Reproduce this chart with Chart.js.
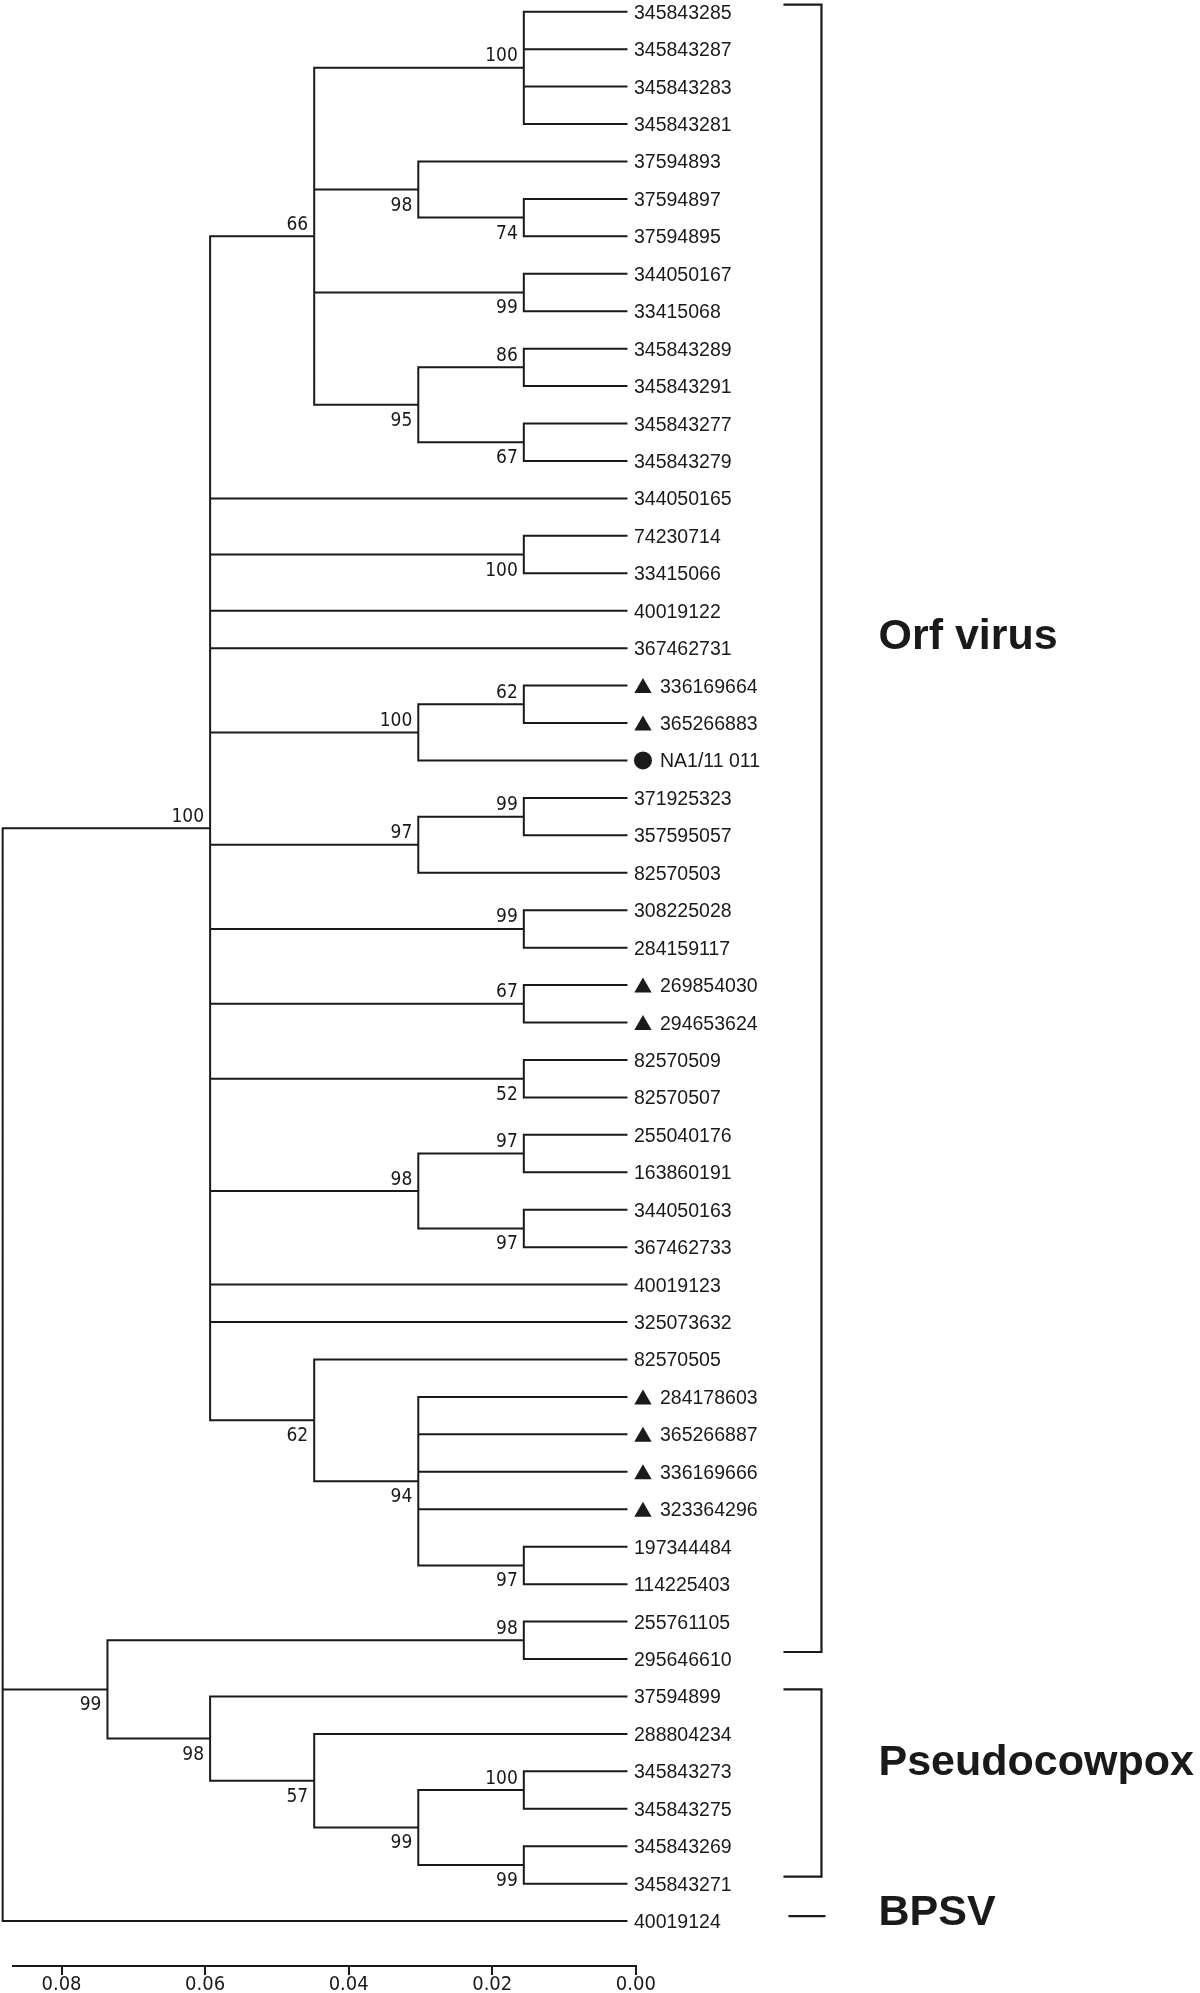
<!DOCTYPE html>
<html>
<head>
<meta charset="utf-8">
<script src="https://cdn.jsdelivr.net/npm/chart.js@4.4.1/dist/chart.umd.min.js"></script>
<style>
  html, body { margin: 0; padding: 0; background: #fff; }
  #wrap { width: 1200px; height: 1993px; }
</style>
</head>
<body>
<div id="wrap"><canvas id="tree" width="1200" height="1993"></canvas></div>
<script>
// leaves, top to bottom
const leafNames = ['345843285','345843287','345843283','345843281','37594893','37594897','37594895',
  '344050167','33415068','345843289','345843291','345843277','345843279','344050165','74230714',
  '33415066','40019122','367462731','336169664','365266883','NA1/11 011','371925323','357595057',
  '82570503','308225028','284159117','269854030','294653624','82570509','82570507','255040176',
  '163860191','344050163','367462733','40019123','325073632','82570505','284178603','365266887',
  '336169666','323364296','197344484','114225403','255761105','295646610','37594899','288804234',
  '345843273','345843275','345843269','345843271','40019124'];
const triangleLeaves = [18, 19, 26, 27, 37, 38, 39, 40];
const circleLeaves = [20];
const leafTip = 0.0013;

// internal nodes (numbers in kids = leaf index, strings = node id)
const nodeIds = ['a','b','c','d','e','f','g','h','i','j','k','l','m','n','o','p','q','r','s','t',
  'u','v','A','w','x','y','z','G','F','C','R'];
const nodeHeight = [0.0156,0.0156,0.0303,0.0156,0.0156,0.0156,0.0303,0.0448,0.0156,0.0156,
  0.0303,0.0156,0.0303,0.0156,0.0156,0.0156,0.0156,0.0156,0.0303,0.0156,
  0.0303,0.0448,0.0593,0.0156,0.0156,0.0156,0.0303,0.0448,0.0593,0.0736,0.0882];
const nodeKids = [[0,1,2,3],[5,6],[4,'b'],[7,8],[9,10],[11,12],['e','f'],['a','c','d','g'],[14,15],[18,19],
  ['j',20],[21,22],['l',23],[24,25],[26,27],[28,29],[30,31],[32,33],['q','r'],[41,42],
  [37,38,39,40,'t'],[36,'u'],['h',13,'i',16,17,'k','m','n','o','p','s',34,35,'v'],
  [43,44],[47,48],[49,50],['x','y'],[46,'z'],[45,'G'],['w','F'],['A','C',51]];
const nodeSupport = [100,74,98,99,86,67,95,66,100,62,100,99,97,99,67,52,97,97,98,97,
  94,62,100,98,100,99,99,57,98,99,null];
const supportBelow = [0,1,1,1,0,1,1,0,1,0,0,0,0,0,0,1,0,1,0,1,1,1,0,0,0,1,1,1,1,1,0];

const cladeNames = ['Orf virus', 'Pseudocowpox', 'BPSV'];
const cladeFirst = [0, 45, 51];
const cladeLast = [44, 50, 51];
const cladeLabelRow = [16.6, 46.7, 50.7];

const scaleTicks = [0, 0.02, 0.04, 0.06, 0.08];

const narrow = '"Liberation Sans Narrow", "DejaVu Sans Condensed", sans-serif';
const ink = '#1a1a1a';

function rowOf(ref) {
    if (typeof ref === 'number') return ref;
    const k = nodeKids[nodeIds.indexOf(ref)];
    return (rowOf(k[0]) + rowOf(k[k.length - 1])) / 2;
}
function heightOf(ref) {
    return typeof ref === 'number' ? leafTip : nodeHeight[nodeIds.indexOf(ref)];
}

// branches as one line with gaps
const branchPoints = [];
nodeIds.forEach((id, n) => {
    const kids = nodeKids[n], h = nodeHeight[n];
    branchPoints.push({x: h, y: rowOf(kids[0])}, {x: h, y: rowOf(kids[kids.length - 1])}, {x: null, y: null});
    kids.forEach(k => {
        branchPoints.push({x: h, y: rowOf(k)}, {x: heightOf(k), y: rowOf(k)}, {x: null, y: null});
    });
});

const treeText = {
    id: 'treeText',
    afterDatasetsDraw(chart) {
        const ctx = chart.ctx, xs = chart.scales.x, ys = chart.scales.y;
        const tipPx = xs.getPixelForValue(leafTip);
        ctx.save();
        ctx.fillStyle = ink;
        ctx.strokeStyle = ink;

        // leaf labels + markers
        ctx.font = '19.5px "Liberation Sans", Arial, sans-serif';
        ctx.textAlign = 'left';
        ctx.textBaseline = 'alphabetic';
        leafNames.forEach((name, i) => {
            const py = ys.getPixelForValue(i);
            let tx = tipPx + 7.5;
            const tri = triangleLeaves.includes(i), dot = circleLeaves.includes(i);
            if (tri || dot) {
                const cx = tipPx + 16.5;
                ctx.beginPath();
                if (tri) {
                    const cy = py + 2.5, r = 10;
                    ctx.moveTo(cx, cy - r);
                    ctx.lineTo(cx + r * 0.866, cy + r / 2);
                    ctx.lineTo(cx - r * 0.866, cy + r / 2);
                    ctx.closePath();
                } else {
                    ctx.arc(cx, py, 9, 0, Math.PI * 2);
                }
                ctx.fill();
                tx = tipPx + 33.5;
            }
            ctx.fillText(name, tx, py + 7);
        });

        // bootstrap values
        ctx.font = '19px ' + narrow;
        ctx.textAlign = 'right';
        nodeIds.forEach((id, n) => {
            if (nodeSupport[n] == null) return;
            const px = xs.getPixelForValue(nodeHeight[n]) - 6;
            const py = ys.getPixelForValue(rowOf(id));
            ctx.fillText(String(nodeSupport[n]), px, supportBelow[n] ? py + 21 : py - 6.5);
        });

        // clade brackets + names
        ctx.lineWidth = 2.2;
        ctx.textAlign = 'left';
        ctx.font = 'bold 43px "Liberation Sans", Arial, sans-serif';
        cladeNames.forEach((name, c) => {
            const top = ys.getPixelForValue(cladeFirst[c]) - 7;
            const bot = ys.getPixelForValue(cladeLast[c]) - 7;
            ctx.beginPath();
            if (cladeFirst[c] === cladeLast[c]) {
                ctx.moveTo(tipPx + 162, top + 2);
                ctx.lineTo(tipPx + 199, top + 2);
            } else {
                ctx.moveTo(tipPx + 157, top);
                ctx.lineTo(tipPx + 195, top);
                ctx.lineTo(tipPx + 195, bot);
                ctx.lineTo(tipPx + 157, bot);
            }
            ctx.stroke();
            ctx.fillText(name, tipPx + 252, ys.getPixelForValue(cladeLabelRow[c]) + 15.4);
        });
        ctx.restore();
    }
};

new Chart(document.getElementById('tree'), {
    type: 'scatter',
    data: {
        datasets: [{
            data: branchPoints,
            showLine: true,
            spanGaps: false,
            borderColor: ink,
            borderWidth: 2,
            borderCapStyle: 'square',
            pointRadius: 0,
            pointHoverRadius: 0,
            clip: false
        }]
    },
    options: {
        responsive: false,
        animation: false,
        events: [],
        layout: { padding: { left: 12.7, right: 564.2, top: 0, bottom: 0 } },
        plugins: { legend: { display: false }, tooltip: { enabled: false } },
        scales: {
            x: {
                type: 'linear',
                position: 'bottom',
                reverse: true,
                min: 0,
                max: 0.0868,
                afterBuildTicks: s => { s.ticks = scaleTicks.map(v => ({ value: v })); },
                afterFit: s => { s.height = 27; s.paddingLeft = 0; s.paddingRight = 0; },
                grid: { drawOnChartArea: false, drawTicks: true, tickLength: 9, color: ink, lineWidth: 2 },
                border: { display: true, color: ink, width: 2 },
                ticks: {
                    color: ink,
                    padding: 0,
                    maxRotation: 0,
                    autoSkip: false,
                    font: { family: narrow, size: 20, lineHeight: 1 },
                    callback: v => Number(v).toFixed(2)
                }
            },
            y: { type: 'linear', display: false, reverse: true, min: -0.3125, max: 52.2 }
        }
    },
    plugins: [treeText]
});
</script>
</body>
</html>
